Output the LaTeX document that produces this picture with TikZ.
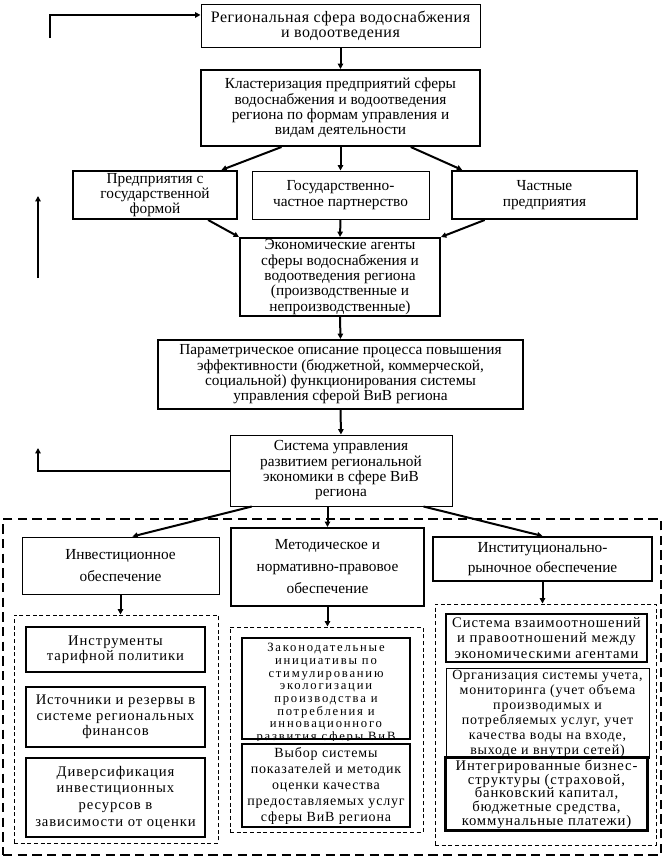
\documentclass[tikz,border=0pt]{standalone}
\usepackage{fontspec}
\setmainfont{Liberation Serif}
\newfontfamily\widefont[LetterSpace=6]{Liberation Serif}
\newfontfamily\tightfont[LetterSpace=14]{Liberation Serif}
\newfontfamily\titlefont[LetterSpace=3]{Liberation Serif}
\usetikzlibrary{calc,arrows.meta}
\tikzset{
	box/.style={draw, fill=white, align=center, inner sep=1pt, font=\fontsize{11.5}{11.5}\selectfont},
	thinbox/.style={box, line width=0.75pt},
	thickbox/.style={box, line width=1.5pt},
	sz/.style 2 args={minimum width=#1*0.75pt, minimum height=#2*0.75pt},
	small/.style={font=\widefont\fontsize{11}{11.5}\selectfont},
	level/.style={font=\fontsize{11.5}{16.5}\selectfont},
	arr/.style={-{Triangle[length=4pt,width=4pt]}, line width=1.5pt},
	grp/.style={draw, dash pattern=on 3pt off 2pt, line width=0.75pt},
	bigframe/.style={draw, dash pattern=on 7pt off 4pt, line width=1.5pt}
}

\begin{document}
\begin{tikzpicture}[x=0.75pt, y=-0.75pt]
		%%%%% START %%%%%
		\useasboundingbox (0,0) rectangle (663,857);
		
		% upper chain
		\node[thinbox, sz={279}{43}, font=\titlefont\fontsize{12}{11.5}\selectfont] (reg) at (340.5,25.5) {Региональная сфера водоснабжения\\и водоотведения};
		\node[thickbox, sz={279}{76}] (clust) at (340.5,108) {Кластеризация предприятий сферы\\водоснабжения и водоотведения\\региона по формам управления и\\видам деятельности};
		
		\node[thickbox, sz={164}{48}] (gos) at (155,195) {Предприятия с\\государственной\\формой};
		\node[thinbox, sz={177}{48}] (gchp) at (340.5,195) {Государственно-\\частное партнерство};
		\node[thickbox, sz={185}{48}] (chast) at (544.5,195) {Частные\\предприятия};
		
		\node[thickbox, sz={200}{78}] (agent) at (340,277) {Экономические агенты\\сферы водоснабжения и\\водоотведения региона\\(производственные и\\непроизводственные)};
		\node[thickbox, sz={365}{69}] (param) at (340.5,374.5) {Параметрическое описание процесса повышения\\эффективности (бюджетной, коммерческой,\\социальной) функционирования системы\\управления сферой ВиВ региона};
		\node[thinbox, sz={222}{71}] (sys) at (341,470.5) {Система управления\\развитием региональной\\экономики в сфере ВиВ\\региона};
		
		\draw[arr] (reg.south) -- (clust.north);
		\draw[arr] ($(clust.south west)!0.29!(clust.south east)$) -- ($(gos.north west)!0.9!(gos.north east)$);
		\draw[arr] (clust.south) -- (gchp.north);
		\draw[arr] ($(clust.south west)!0.75!(clust.south east)$) -- ($(chast.north west)!0.06!(chast.north east)$);
		\draw[arr] ($(gos.south west)!0.82!(gos.south east)$) -- (agent.north west);
		\draw[arr] (gchp.south) -- (agent.north);
		\draw[arr] ($(chast.south west)!0.18!(chast.south east)$) -- (agent.north east);
		\draw[arr] (agent.south) -- (param.north);
		\draw[arr] (param.south) -- (sys.north);
		
		% feedback lines on the left
		\coordinate (fbA) at (50,38);
		\draw[arr] (fbA) |- ([yshift=7.9pt]reg.west);
		\coordinate (fbB1) at (38,278);
		\coordinate (fbB2) at (38,196);
		\draw[arr] (fbB1) -- (fbB2);
		\coordinate (fbC) at (38,448);
		\draw[arr] (sys.west) -| (fbC);
		
		% lower block
		\node[bigframe, sz={658}{336}] (frame) at (332,687) {};
		\node[grp, sz={204}{228}] (grpA) at (116,729) {};
		\node[grp, sz={193}{205}] (grpB) at (326.5,729.5) {};
		\node[grp, sz={221}{241}] (grpC) at (545.5,724.5) {};
		
		\node[thinbox, level, sz={197}{57}] (invest) at (120.5,565.5) {Инвестиционное\\обеспечение};
		\node[thickbox, level, sz={193}{78}] (metod) at (327.5,567) {Методическое и\\нормативно-правовое\\обеспечение};
		\node[thickbox, level, sz={219}{44}, font=\fontsize{11.5}{15}\selectfont] (inst) at (542.5,559) {Институционально-\\рыночное обеспечение};
		
		\draw[arr] ($(sys.south west)!0.1!(sys.south east)$) -- ($(invest.north west)!0.56!(invest.north east)$);
		\draw[arr] (sys.south -| metod.north) -- (metod.north);
		\draw[arr] ($(sys.south west)!0.87!(sys.south east)$) -- (inst.north);
		\draw[arr] (invest.south) -- (invest.south |- grpA.north);
		\draw[arr] (metod.south) -- (metod.south |- grpB.north);
		\draw[arr] (inst.south) -- (inst.south |- grpC.north);
		
		% investment group
		\node[thickbox, small, sz={179}{45}] (tarif) at (115.5,649.5) {Инструменты\\тарифной политики};
		\node[thickbox, small, sz={179}{60}] (rezerv) at (115.5,717) {Источники и резервы в\\системе региональных\\финансов};
		\node[thickbox, small, sz={179}{79}, font=\widefont\fontsize{11}{12.5}\selectfont] (divers) at (115.5,797.5) {Диверсификация\\инвестиционных\\ресурсов в\\зависимости от оценки};
		
		% normative group
		\node[thickbox, sz={168}{101}] (zakon) at (326,688.5) {};
		\begin{scope}
			\clip (zakon.south west) rectangle (zakon.north east);
			\node[align=center, anchor=north, inner sep=0pt, font=\tightfont\fontsize{9.5}{9.5}\selectfont] (zakontxt) at ([yshift=-4.5pt]zakon.north) {Законодательные\\инициативы по\\стимулированию\\экологизации\\производства и\\потребления и\\инновационного\\развития сферы ВиВ};
		\end{scope}
		\node[thickbox, small, sz={168}{83}, font=\widefont\fontsize{10.5}{12}\selectfont] (vybor) at (326,785.5) {Выбор системы\\показателей и методик\\оценки качества\\предоставляемых услуг\\сферы ВиВ региона};
		
		% institutional group
		\node[thickbox, small, sz={201}{48}] (vzaim) at (546.5,638) {Система взаимоотношений\\и правоотношений между\\экономическими агентами};
		\node[thinbox, sz={203}{90}] (uchet) at (547.5,713) {};
		\begin{scope}
			\clip (uchet.south west) rectangle (uchet.north east);
			\node[align=center, anchor=north, inner sep=0pt, font=\widefont\fontsize{10.5}{11.25}\selectfont] (uchettxt) at ([yshift=-2pt]uchet.north) {Организация системы учета,\\мониторинга (учет объема\\производимых и\\потребляемых услуг, учет\\качества воды на входе,\\выходе и внутри сетей)};
		\end{scope}
		\node[thickbox, sz={201}{72}] (biznes) at (546.5,794) {};
		\begin{scope}
			\clip (biznes.south west) rectangle (biznes.north east);
			\node[align=center, anchor=north, inner sep=0pt, font=\widefont\fontsize{11}{10.3}\selectfont] (biznestxt) at ([yshift=-2pt]biznes.north) {Интегрированные бизнес-\\структуры (страховой,\\банковский капитал,\\бюджетные средства,\\коммунальные платежи)};
		\end{scope}
		\draw[line width=1.5pt] (biznes.south west) rectangle (biznes.north east);
		
		%%%%% END %%%%%
	\end{tikzpicture}
\end{document}
